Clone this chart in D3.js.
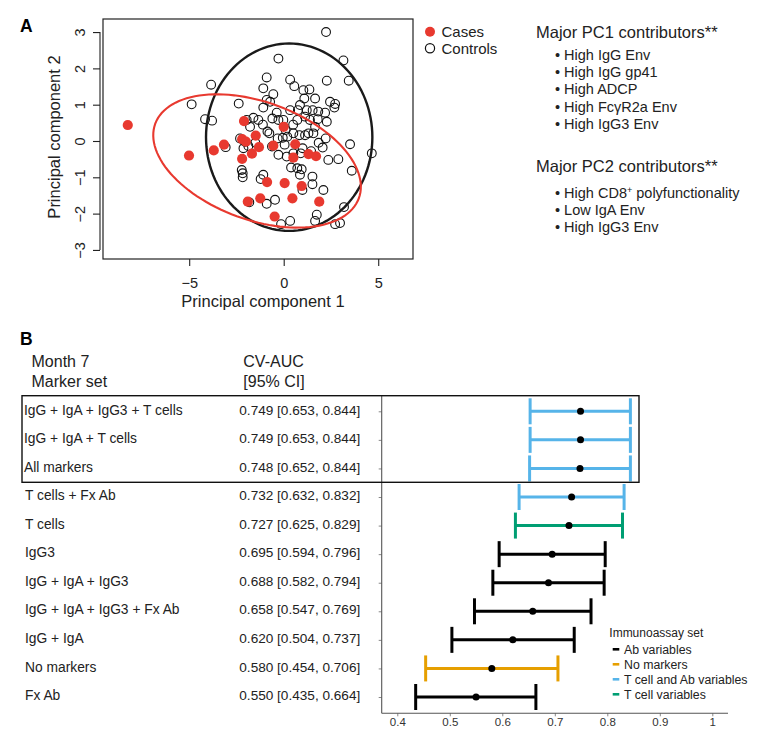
<!DOCTYPE html>
<html>
<head>
<meta charset="utf-8">
<script src="https://cdn.jsdelivr.net/npm/d3@7"></script>
<style>
  html, body { margin: 0; padding: 0; background: #fff; }
  svg { display: block; font-family: "Liberation Sans", Arial, Helvetica, sans-serif; }
</style>
</head>
<body>
<svg id="chart" width="764" height="753"></svg>
<script>
// ---------------- Panel A data ----------------
const casesX = [-8.25, -5.01, -3.70, -3.16, -2.10, -2.20, -2.20, -2.00, -1.48, -1.68, -1.31, -0.55, 0.00, 0.61, 0.51, 1.31, 1.71, -0.88, 0.05, 0.95, -1.90, -1.24, 0.46, 1.88, -0.48];
const casesY = [0.44, -0.40, -0.26, -0.10, 0.55, 0.05, -0.49, -0.02, 0.15, -0.35, -0.17, -0.13, 0.39, -0.09, -0.46, -0.36, -0.42, -1.13, -1.16, -1.24, -1.67, -1.58, -1.58, -1.67, -2.08];
const controlsX = [2.24, -0.28, 3.16, -0.90, 0.34, 2.28, 3.44, -3.84, -1.08, 0.56, 1.04, 1.36, -0.55, -0.90, -0.72, 1.09, 1.66, -2.38, -4.87, 2.45, 2.72, 2.68, -1.08, 0.86, 0.34, -0.37, 1.22, 1.53, 1.83, 2.19, -4.16, -3.79, -1.60, -1.34, -1.96, -0.60, -0.28, -0.02, 0.72, 1.13, 1.39, 1.80, 2.28, 1.66, -1.78, -0.86, 0.51, 0.83, 1.31, 1.57, 1.13, 0.19, -0.05, -0.32, -0.76, 2.22, -2.31, -2.05, -3.07, 3.51, 2.06, -2.13, -1.87, -0.28, 0.16, 0.51, 0.90, 4.66, 2.36, 2.89, -2.22, -2.17, -2.17, 0.39, 0.72, 0.95, 0.86, 3.60, 1.52, -1.08, -1.22, 0.99, 1.52, 2.10, -1.82, -0.90, -0.46, 1.75, 1.66, 0.34, -0.14, 2.72, 2.98, 3.19, -0.62, 0.50, 1.00, 1.45, -1.10, 0.10, 0.75, -1.50, 0.05, 1.85];
const controlsY = [3.00, 2.27, 2.22, 1.75, 1.69, 1.66, 1.66, 1.55, 1.45, 1.51, 1.40, 1.42, 1.29, 1.13, 1.08, 1.17, 1.17, 1.03, 1.01, 1.08, 1.02, 0.92, 0.92, 0.99, 0.85, 0.78, 0.85, 0.85, 0.81, 0.78, 0.60, 0.56, 0.64, 0.58, 0.58, 0.62, 0.58, 0.58, 0.58, 0.67, 0.58, 0.60, 0.53, 0.39, 0.39, 0.26, 0.21, 0.16, 0.21, 0.21, 0.16, 0.12, 0.09, 0.07, 0.21, 0.07, 0.07, -0.02, -0.17, -0.09, -0.18, -0.20, -0.14, -0.38, -0.43, -0.34, -0.34, -0.34, -0.52, -0.50, -0.80, -0.89, -1.00, -0.73, -0.75, -0.78, -0.93, -0.82, -0.98, -0.93, -1.05, -1.35, -1.19, -1.35, -1.69, -1.73, -1.62, -2.03, -2.20, -2.20, -2.29, -2.29, -2.26, -1.82, -0.15, 0.45, -0.20, -0.28, 0.45, 0.30, 0.85, -0.05, -0.10, -0.05];
// ellipses: centre and axis vectors (data units)
const ellipseNames = ["Controls", "Cases"];
const ellipseCX = [0.29, -1.41];
const ellipseCY = [0.105, -0.55];
const ellipseA = [[4.40, 0], [5.386, -1.026]];   // vector for cos t
const ellipseB = [[0, 2.58], [-1.071, -1.522]];  // vector for sin t
const xTicksA = [-5, 0, 5];
const yTicksA = [-3, -2, -1, 0, 1, 2, 3];
const pc1Title = "Major PC1 contributors**";
const pc1Items = ["High IgG Env", "High IgG gp41", "High ADCP", "High Fc\u03B3R2a Env", "High IgG3 Env"];
const pc2Title = "Major PC2 contributors**";
const pc2Items = ["High CD8|+| polyfunctionality", "Low IgA Env", "High IgG3 Env"];

// ---------------- Panel B data ----------------
const markerSets = ["IgG + IgA + IgG3 + T cells", "IgG + IgA + T cells", "All markers", "T cells + Fx Ab", "T cells", "IgG3", "IgG + IgA + IgG3", "IgG + IgA + IgG3 + Fx Ab", "IgG + IgA", "No markers", "Fx Ab"];
const cvAUC = [0.749, 0.749, 0.748, 0.732, 0.727, 0.695, 0.688, 0.658, 0.620, 0.580, 0.550];
const ciLow = [0.653, 0.653, 0.652, 0.632, 0.625, 0.594, 0.582, 0.547, 0.504, 0.454, 0.435];
const ciHigh = [0.844, 0.844, 0.844, 0.832, 0.829, 0.796, 0.794, 0.769, 0.737, 0.706, 0.664];
const assaySet = ["T cell and Ab variables", "T cell and Ab variables", "T cell and Ab variables", "T cell and Ab variables", "T cell variables", "Ab variables", "Ab variables", "Ab variables", "Ab variables", "No markers", "Ab variables"];
const legendSets = ["Ab variables", "No markers", "T cell and Ab variables", "T cell variables"];
const legendColors = ["#000000", "#E69F00", "#56B4E9", "#009E73"];
const xTicksB = [0.4, 0.5, 0.6, 0.7, 0.8, 0.9, 1.0];

const svg = d3.select("#chart");
svg.append("rect").attr("width", 764).attr("height", 753).attr("fill", "#fff");

// ================= PANEL A =================
const RED = "#e8392f";
const xA = d3.scaleLinear().domain([-9.56, 6.84]).range([103, 413]);
const yA = d3.scaleLinear().domain([-3.25, 3.36]).range([259, 19]);
const gA = svg.append("g");

gA.append("text").attr("x", 20).attr("y", 32).attr("font-size", 17.5).attr("font-weight", "bold").text("A");

// controls
gA.append("g").selectAll("circle").data(d3.range(controlsX.length)).join("circle")
  .attr("cx", i => xA(controlsX[i])).attr("cy", i => yA(controlsY[i])).attr("r", 4.4)
  .attr("fill", "none").attr("stroke", "#111").attr("stroke-width", 1.1);
// cases
gA.append("g").selectAll("circle").data(d3.range(casesX.length)).join("circle")
  .attr("cx", i => xA(casesX[i])).attr("cy", i => yA(casesY[i])).attr("r", 5.1)
  .attr("fill", RED);

// ellipses
const tt = d3.range(0, 361, 3).map(d => d * Math.PI / 180);
const ellLine = d3.line().x(d => xA(d[0])).y(d => yA(d[1])).curve(d3.curveLinearClosed);
ellipseNames.forEach((nm, k) => {
  const pts = tt.map(t => [
    ellipseCX[k] + ellipseA[k][0] * Math.cos(t) + ellipseB[k][0] * Math.sin(t),
    ellipseCY[k] + ellipseA[k][1] * Math.cos(t) + ellipseB[k][1] * Math.sin(t)
  ]);
  gA.append("path").attr("d", ellLine(pts)).attr("fill", "none")
    .attr("stroke", k === 0 ? "#1a1a1a" : RED).attr("stroke-width", k === 0 ? 2.4 : 2.1);
});

// box
gA.append("rect").attr("x", 103).attr("y", 19).attr("width", 310).attr("height", 240)
  .attr("fill", "none").attr("stroke", "#222").attr("stroke-width", 1.2);

// axes (R style)
const axBottom = gA.append("g").attr("transform", "translate(0,259)")
  .call(d3.axisBottom(xA).tickValues(xTicksA).tickSize(7).tickPadding(3).tickFormat(d => d < 0 ? "\u2212" + Math.abs(d) : d));
axBottom.select(".domain").remove();
axBottom.selectAll("line").attr("stroke", "#222").attr("stroke-width", 1.1);
axBottom.selectAll("text").attr("font-size", 14.5).attr("fill", "#222").attr("font-family", null).attr("dy", null).attr("y", 29);

const axLeft = gA.append("g").attr("transform", "translate(100,0)")
  .call(d3.axisLeft(yA).tickValues(yTicksA).tickSize(7).tickFormat(d => d < 0 ? "\u2212" + Math.abs(d) : d));
axLeft.select(".domain").remove();
axLeft.append("line").attr("x1", 0).attr("x2", 0).attr("y1", yA(-3)).attr("y2", yA(3)).attr("stroke", "#222").attr("stroke-width", 1.1);
axLeft.selectAll(".tick line").attr("stroke", "#222").attr("stroke-width", 1.1);
axLeft.selectAll(".tick text").attr("font-size", 14.5).attr("fill", "#222").attr("font-family", null)
  .attr("x", null).attr("dy", null).attr("text-anchor", "middle")
  .attr("transform", "translate(-15,0) rotate(-90)");

gA.append("text").attr("x", 263).attr("y", 307).attr("text-anchor", "middle").attr("font-size", 16.5).attr("fill", "#222").text("Principal component 1");
gA.append("text").attr("transform", "translate(60,137) rotate(-90)").attr("text-anchor", "middle").attr("font-size", 16.5).attr("fill", "#222").text("Principal component 2");

// legend
gA.append("circle").attr("cx", 430).attr("cy", 31.7).attr("r", 5).attr("fill", RED);
gA.append("circle").attr("cx", 430).attr("cy", 48.3).attr("r", 4.6).attr("fill", "none").attr("stroke", "#111").attr("stroke-width", 1.2);
gA.append("text").attr("x", 441.5).attr("y", 37).attr("font-size", 15).attr("fill", "#222").text("Cases");
gA.append("text").attr("x", 441.5).attr("y", 53.6).attr("font-size", 15).attr("fill", "#222").text("Controls");

// contributors text
function bulletList(title, items, yTitle, yFirst) {
  gA.append("text").attr("x", 536).attr("y", yTitle).attr("font-size", 16.5).attr("fill", "#222").text(title);
  items.forEach((it, i) => {
    const t = gA.append("text").attr("x", 555).attr("y", yFirst + i * 17.4).attr("font-size", 14.5).attr("fill", "#222");
    const parts = ("\u2022 " + it).split("|");
    parts.forEach((p, j) => {
      if (j === 1) t.append("tspan").attr("font-size", 9).attr("baseline-shift", "5").text(p);
      else t.append("tspan").text(p);
    });
  });
}
bulletList(pc1Title, pc1Items, 38.3, 59.5);
bulletList(pc2Title, pc2Items, 171.5, 197.5);

// ================= PANEL B =================
const gB = svg.append("g");
gB.append("text").attr("x", 20).attr("y", 345).attr("font-size", 17.5).attr("font-weight", "bold").text("B");
gB.append("text").attr("x", 31.5).attr("y", 366.7).attr("font-size", 16).attr("fill", "#222").text("Month 7");
gB.append("text").attr("x", 31.5).attr("y", 387).attr("font-size", 16).attr("fill", "#222").text("Marker set");
gB.append("text").attr("x", 243.3).attr("y", 366.7).attr("font-size", 16).attr("fill", "#222").text("CV-AUC");
gB.append("text").attr("x", 243.3).attr("y", 387).attr("font-size", 16).attr("fill", "#222").text("[95% CI]");

const xB = d3.scaleLinear().domain([0.3703, 1.0299]).range([381.7, 728]);
const yB = d3.scalePoint().domain(markerSets).range([411.3, 697]);
const colorB = d3.scaleOrdinal().domain(legendSets).range(legendColors);
const fmt = d3.format(".3f");

// table text
gB.append("g").selectAll("text").data(markerSets).join("text")
  .attr("x", (d, i) => i < 3 ? 24 : 25).attr("y", d => yB(d) + 3.2)
  .attr("font-size", 13.8).attr("fill", "#222").text(d => d);
gB.append("g").selectAll("text").data(markerSets).join("text")
  .attr("x", 239.3).attr("y", d => yB(d) + 3.2)
  .attr("font-size", 13.6).attr("fill", "#222")
  .text((d, i) => `${fmt(cvAUC[i])} [${fmt(ciLow[i])}, ${fmt(ciHigh[i])}]`);

// axes
const axB = gB.append("g").attr("transform", "translate(0,713.3)")
  .call(d3.axisBottom(xB).tickValues(xTicksB).tickSize(3).tickPadding(2).tickFormat(d => d === 1 ? "1" : d.toFixed(1)));
axB.select(".domain").remove();
axB.append("line").attr("x1", 381.7).attr("x2", 728).attr("stroke", "#555").attr("stroke-width", 1.1);
axB.selectAll(".tick line").attr("stroke", "#888");
axB.selectAll(".tick text").attr("font-size", 11.5).attr("fill", "#333").attr("font-family", null);

const ayB = gB.append("g").attr("transform", "translate(381.7,0)")
  .call(d3.axisLeft(yB).tickSize(3).tickFormat(""));
ayB.select(".domain").remove();
ayB.append("line").attr("y1", 395.7).attr("y2", 713.3).attr("stroke", "#555").attr("stroke-width", 1.1);
ayB.selectAll(".tick line").attr("stroke", "#888");

// error bars
const bars = gB.append("g").selectAll("g").data(markerSets).join("g")
  .attr("stroke", (d, i) => colorB(assaySet[i])).attr("stroke-width", 3);
bars.append("line").attr("x1", (d, i) => xB(ciLow[i])).attr("x2", (d, i) => xB(ciHigh[i]))
  .attr("y1", d => yB(d)).attr("y2", d => yB(d));
bars.append("line").attr("x1", (d, i) => xB(ciLow[i])).attr("x2", (d, i) => xB(ciLow[i]))
  .attr("y1", d => yB(d) - 13).attr("y2", d => yB(d) + 13);
bars.append("line").attr("x1", (d, i) => xB(ciHigh[i])).attr("x2", (d, i) => xB(ciHigh[i]))
  .attr("y1", d => yB(d) - 13).attr("y2", d => yB(d) + 13);
gB.append("g").selectAll("circle").data(markerSets).join("circle")
  .attr("cx", (d, i) => xB(cvAUC[i])).attr("cy", d => yB(d)).attr("r", 3.5).attr("fill", "#000");

// highlight box
gB.append("rect").attr("x", 22).attr("y", 395.7).attr("width", 617).attr("height", 86.6)
  .attr("fill", "none").attr("stroke", "#111").attr("stroke-width", 1.4);

// legend
gB.append("text").attr("x", 609.3).attr("y", 636.6).attr("font-size", 12).attr("fill", "#222").text("Immunoassay set");
legendSets.forEach((s, i) => {
  const y = 649.3 + i * 15;
  gB.append("line").attr("x1", 612.7).attr("x2", 619.3).attr("y1", y).attr("y2", y)
    .attr("stroke", colorB(s)).attr("stroke-width", 2.6);
  gB.append("text").attr("x", 624).attr("y", y + 4.4).attr("font-size", 12.3).attr("fill", "#222").text(s);
});
</script>
</body>
</html>
